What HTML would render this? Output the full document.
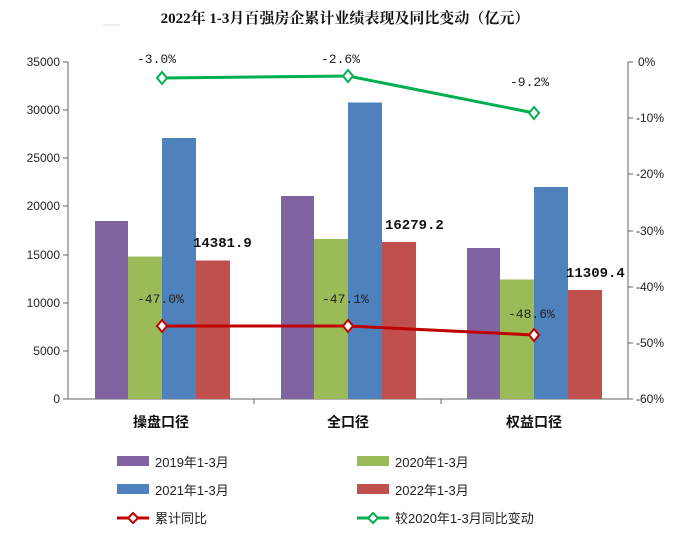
<!DOCTYPE html><html><head><meta charset="utf-8"><style>body{margin:0;background:#fff}svg{display:block}text{font-family:"Liberation Sans","Noto Sans CJK SC",sans-serif}</style></head><body>
<svg width="690" height="535" xmlns="http://www.w3.org/2000/svg">
<rect width="690" height="535" fill="#fff"/>
<line x1="103" y1="25" x2="120" y2="25" stroke="#ddd"/>
<text x="345" y="23" text-anchor="middle" font-size="15" font-weight="bold" fill="#111" style="font-family:'Liberation Serif','Noto Serif CJK SC',serif">2022年 1-3月百强房企累计业绩表现及同比变动（亿元）</text>
<g stroke="#666" stroke-width="1">
<line x1="68" y1="62" x2="68" y2="399"/><line x1="68" y1="399" x2="628" y2="399"/><line x1="628" y1="62" x2="628" y2="399"/>
<line x1="63" y1="62" x2="68" y2="62"/><line x1="63" y1="110" x2="68" y2="110"/><line x1="63" y1="158" x2="68" y2="158"/><line x1="63" y1="206" x2="68" y2="206"/><line x1="63" y1="255" x2="68" y2="255"/><line x1="63" y1="303" x2="68" y2="303"/><line x1="63" y1="351" x2="68" y2="351"/><line x1="63" y1="399" x2="68" y2="399"/>
<line x1="628" y1="62" x2="633" y2="62"/><line x1="628" y1="118" x2="633" y2="118"/><line x1="628" y1="174" x2="633" y2="174"/><line x1="628" y1="231" x2="633" y2="231"/><line x1="628" y1="287" x2="633" y2="287"/><line x1="628" y1="343" x2="633" y2="343"/><line x1="628" y1="399" x2="633" y2="399"/>
<line x1="254" y1="399" x2="254" y2="404"/><line x1="441" y1="399" x2="441" y2="404"/>
</g>
<g font-size="12" fill="#222" text-anchor="end">
<text x="60" y="66">35000</text><text x="60" y="114">30000</text><text x="60" y="162">25000</text><text x="60" y="210">20000</text><text x="60" y="259">15000</text><text x="60" y="307">10000</text><text x="60" y="355">5000</text><text x="60" y="403">0</text>
</g>
<g font-size="12" fill="#222">
<text x="638" y="66">0%</text><text x="636" y="122">-10%</text><text x="636" y="178">-20%</text><text x="636" y="235">-30%</text><text x="636" y="291">-40%</text><text x="636" y="347">-50%</text><text x="636" y="403">-60%</text>
</g>
<g>
<rect x="95" y="221" width="33" height="178" fill="#8064a2"/><rect x="128" y="256.5" width="34" height="142.5" fill="#9bbb59"/><rect x="162" y="138" width="34" height="261" fill="#4f81bd"/><rect x="196" y="260.5" width="34" height="138.5" fill="#c0504d"/>
<rect x="281" y="196" width="33" height="203" fill="#8064a2"/><rect x="314" y="239" width="34" height="160" fill="#9bbb59"/><rect x="348" y="102.5" width="34" height="296.5" fill="#4f81bd"/><rect x="382" y="242" width="34" height="157" fill="#c0504d"/>
<rect x="467" y="248" width="33" height="151" fill="#8064a2"/><rect x="500" y="279.5" width="34" height="119.5" fill="#9bbb59"/><rect x="534" y="187" width="34" height="212" fill="#4f81bd"/><rect x="568" y="290" width="34" height="109" fill="#c0504d"/>
</g>
<g font-size="14" font-weight="bold" fill="#111">
<text x="193" y="247" style="font-family:'Liberation Mono',monospace">14381.9</text><text x="385" y="229" style="font-family:'Liberation Mono',monospace">16279.2</text><text x="566" y="277" style="font-family:'Liberation Mono',monospace">11309.4</text>
</g>
<polyline points="162,78 348,76 534,113" fill="none" stroke="#00b050" stroke-width="3"/>
<polyline points="162,326 348,326 534,335" fill="none" stroke="#c00000" stroke-width="3"/>
<g fill="#fff" stroke-width="2">
<path d="M162,72 l5,6 l-5,6 l-5,-6z" stroke="#00b050"/><path d="M348,70 l5,6 l-5,6 l-5,-6z" stroke="#00b050"/><path d="M534,107 l5,6 l-5,6 l-5,-6z" stroke="#00b050"/>
<path d="M162,320 l5,6 l-5,6 l-5,-6z" stroke="#c00000"/><path d="M348,320 l5,6 l-5,6 l-5,-6z" stroke="#c00000"/><path d="M534,329 l5,6 l-5,6 l-5,-6z" stroke="#c00000"/>
</g>
<g font-size="13" fill="#222">
<text x="137" y="63" style="font-family:'Liberation Mono',monospace">-3.0%</text><text x="321" y="63" style="font-family:'Liberation Mono',monospace">-2.6%</text><text x="510" y="86" style="font-family:'Liberation Mono',monospace">-9.2%</text>
<text x="137" y="303" style="font-family:'Liberation Mono',monospace">-47.0%</text><text x="322" y="303" style="font-family:'Liberation Mono',monospace">-47.1%</text><text x="508" y="318" style="font-family:'Liberation Mono',monospace">-48.6%</text>
</g>
<g font-size="14" font-weight="bold" fill="#111" text-anchor="middle">
<text x="161" y="427">操盘口径</text><text x="348" y="427">全口径</text><text x="534" y="427">权益口径</text>
</g>
<g font-size="13" fill="#222">
<rect x="117" y="456" width="32" height="10" fill="#8064a2"/><text x="155" y="467">2019年1-3月</text>
<rect x="357" y="456" width="32" height="10" fill="#9bbb59"/><text x="395" y="467">2020年1-3月</text>
<rect x="117" y="484" width="32" height="10" fill="#4f81bd"/><text x="155" y="495">2021年1-3月</text>
<rect x="357" y="484" width="32" height="10" fill="#c0504d"/><text x="395" y="495">2022年1-3月</text>
<line x1="117" y1="518" x2="149" y2="518" stroke="#c00000" stroke-width="3"/><path d="M133,513 l5,5 l-5,5 l-5,-5z" fill="#fff" stroke="#c00000" stroke-width="2"/><text x="155" y="523">累计同比</text>
<line x1="357" y1="518" x2="389" y2="518" stroke="#00b050" stroke-width="3"/><path d="M373,513 l5,5 l-5,5 l-5,-5z" fill="#fff" stroke="#00b050" stroke-width="2"/><text x="395" y="523">较2020年1-3月同比变动</text>
</g>
</svg>
</body></html>
